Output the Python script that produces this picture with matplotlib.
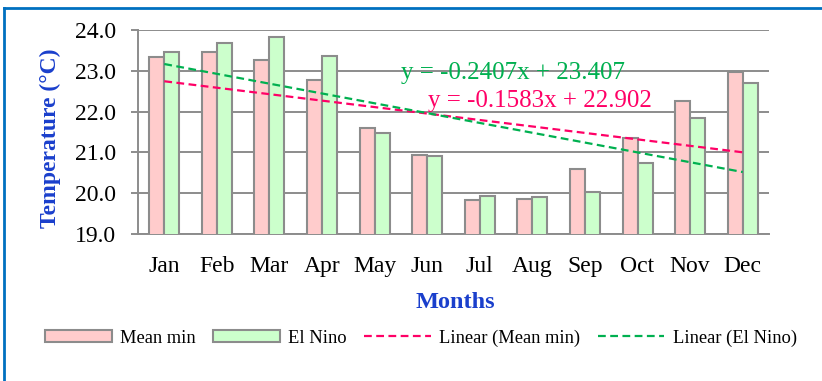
import matplotlib
matplotlib.use("Agg")
import matplotlib.pyplot as plt
import numpy as np
from matplotlib.patches import Patch
from matplotlib.lines import Line2D

months = ["Jan", "Feb", "Mar", "Apr", "May", "Jun",
          "Jul", "Aug", "Sep", "Oct", "Nov", "Dec"]
mean_min = [23.33, 23.45, 23.27, 22.77, 21.59, 20.94,
            19.84, 19.87, 20.60, 21.35, 22.25, 22.97]
el_nino = [23.47, 23.67, 23.83, 23.37, 21.47, 20.91,
           19.93, 19.90, 20.02, 20.73, 21.85, 22.70]
trend_mean = (-0.1583, 22.902)
trend_nino = (-0.2407, 23.407)
yticks = [19.0, 20.0, 21.0, 22.0, 23.0, 24.0]

W, H = 822, 381
fig = plt.figure(figsize=(W / 100, H / 100), dpi=100)
plt.rcParams["font.family"] = ["Liberation Serif", "DejaVu Serif"]


def fx(x):
    return x / W


def fy(y):
    return 1 - y / H


GRID = "#8c8c8c"
PINK = "#ffcccc"
GREEN = "#ccffcc"
RED_LINE = "#ff0066"
GREEN_LINE = "#00b050"
BLUE = "#1a3fcc"
DASH = (0, (3.5, 2))

ax = fig.add_axes([fx(138), fy(234), (769 - 138) / W, (234 - 30) / H])
x = np.arange(1, len(months) + 1)
bw = 0.285
ax.bar(x - bw / 2, mean_min, width=bw, color=PINK,
       edgecolor=GRID, linewidth=1.5, zorder=3)
ax.bar(x + bw / 2, el_nino, width=bw, color=GREEN,
       edgecolor=GRID, linewidth=1.5, zorder=3)

xs = np.array([1, len(months)])
ax.plot(xs, trend_mean[0] * xs + trend_mean[1], color=RED_LINE,
        linestyle=DASH, linewidth=1.6, zorder=4)
ax.plot(xs, trend_nino[0] * xs + trend_nino[1], color=GREEN_LINE,
        linestyle=DASH, linewidth=1.6, zorder=4)

ax.set_xlim(0.5, len(months) + 0.5)
ax.set_ylim(19.0, 24.0)
ax.set_yticks(yticks)
ax.set_yticklabels([f"{v:.1f}" for v in yticks], fontsize=17)
ax.set_xticks(x)
ax.set_xticklabels(months, fontsize=17)
ax.tick_params(axis="x", length=0, pad=16)
ax.tick_params(axis="y", length=5, width=1.4, color=GRID, pad=11)
ax.grid(axis="y", color=GRID, linewidth=1.4, zorder=1)
ax.set_axisbelow(True)
for s in ["top", "right"]:
    ax.spines[s].set_visible(False)
for s in ["left", "bottom"]:
    ax.spines[s].set_color(GRID)
    ax.spines[s].set_linewidth(1.4)

fig.text(fx(513), fy(73), "y = -0.2407x + 23.407", color=GREEN_LINE,
         fontsize=18, ha="center", va="center")
fig.text(fx(540), fy(101), "y = -0.1583x + 22.902", color=RED_LINE,
         fontsize=18, ha="center", va="center")

fig.text(fx(455), fy(302), "Months", color=BLUE, fontsize=17.5,
         fontweight="bold", ha="center", va="center")
fig.text(fx(50), fy(138), "Temperature (°C)", color=BLUE, fontsize=17,
         fontweight="bold", ha="center", va="center", rotation=90)

handles = [
    Patch(facecolor=PINK, edgecolor=GRID, linewidth=1.5),
    Patch(facecolor=GREEN, edgecolor=GRID, linewidth=1.5),
    Line2D([], [], color=RED_LINE, linestyle=DASH, linewidth=1.6),
    Line2D([], [], color=GREEN_LINE, linestyle=DASH, linewidth=1.6),
]
labels = ["Mean min", "El Nino", "Linear (Mean min)", "Linear (El Nino)"]
fig.legend(handles, labels, loc="center", bbox_to_anchor=(fx(421), fy(338)),
           ncol=4, frameon=False, fontsize=13.3, handlelength=3.6,
           handleheight=0.65, handletextpad=0.45, columnspacing=0.95)

# outer chart frame
fig.add_artist(Line2D([fx(4), 1.0], [fy(8), fy(8)], color="#0070c0",
                      linewidth=2))
fig.add_artist(Line2D([fx(4), fx(4)], [fy(8), 0.0], color="#0070c0",
                      linewidth=2))

fig.savefig("out.png", dpi=100)
